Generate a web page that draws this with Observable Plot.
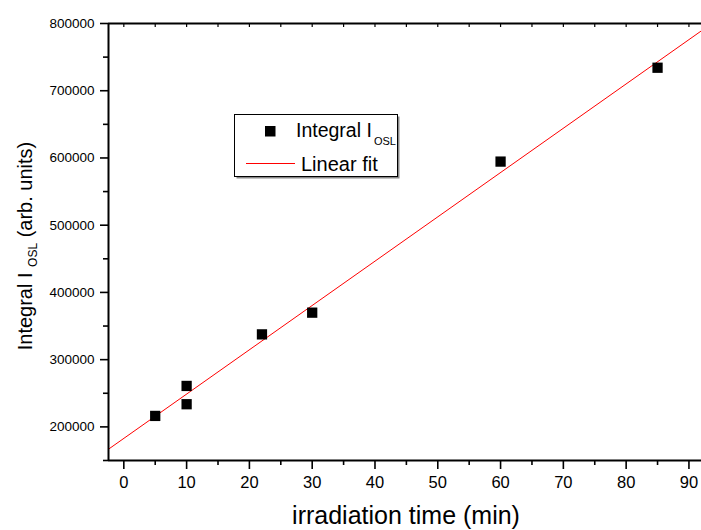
<!DOCTYPE html>
<html>
<head>
<meta charset="utf-8">
<script src="https://cdn.jsdelivr.net/npm/d3@7"></script>
<script src="https://cdn.jsdelivr.net/npm/@observablehq/plot@0.6"></script>
<style>
  html, body { margin: 0; padding: 0; background: #fff; }
  #chart { width: 701px; height: 530px; position: relative; overflow: hidden; }
</style>
</head>
<body>
<div id="chart"></div>
<script>
// ---- data ----
const timeMin = [5, 10, 10, 22, 30, 60, 85];
const integralOSL = [216300, 260900, 233700, 337600, 369900, 594600, 734200];
const fitX = [-2.44, 92.0];
const fitY = [166800, 789200];
const xDomain = [-2.44, 92.0];
const yDomain = [150000, 800000];
const xTicks = [0, 10, 20, 30, 40, 50, 60, 70, 80, 90];
const xMinorTicks = [5, 15, 25, 35, 45, 55, 65, 75, 85];
const yTicks = [200000, 300000, 400000, 500000, 600000, 700000, 800000];
const yMinorTicks = [150000, 250000, 350000, 450000, 550000, 650000, 750000];

const points = timeMin.map((t, i) => ({t, v: integralOSL[i]}));
const fit = fitX.map((t, i) => ({t, v: fitY[i]}));

const font = "'Liberation Sans', Arial, Helvetica, sans-serif";

const plot = Plot.plot({
  width: 701,
  height: 530,
  marginLeft: 108,
  marginRight: 0,
  marginTop: 23,
  marginBottom: 70,
  style: {fontFamily: font, background: "#fff", color: "#000"},
  x: {domain: xDomain},
  y: {domain: yDomain},
  marks: [
    Plot.line(fit, {x: "t", y: "v", stroke: "#ff0000", strokeWidth: 1, clip: true}),
    Plot.dot(points, {x: "t", y: "v", symbol: "square", r: 5.8, fill: "#000", stroke: null}),
    // frame lines
    Plot.ruleX([xDomain[0]], {strokeWidth: 2}),
    Plot.ruleY([yDomain[0]], {strokeWidth: 2}),
    Plot.ruleY([yDomain[1]], {strokeWidth: 2}),
    // y axis
    Plot.axisY({ticks: yTicks, tickSize: 8, tickPadding: 6, tickFormat: d3.format("d"),
      fontSize: 13.5, strokeWidth: 1.6, label: null}),
    Plot.axisY({ticks: yMinorTicks, tickSize: 5, tickFormat: () => "", strokeWidth: 1.6, label: null}),
    // x axis
    Plot.axisX({ticks: xTicks, tickSize: 9, tickPadding: 7, tickFormat: d3.format("d"),
      fontSize: 16.5, strokeWidth: 1.6, label: null}),
    Plot.axisX({ticks: xMinorTicks, tickSize: 5, tickFormat: () => "", strokeWidth: 1.6, label: null}),
    // small inward ticks on top border
    Plot.tickX(xTicks.concat(xMinorTicks), {x: d => d, insetBottom: 433, strokeWidth: 1.2})
  ]
});

document.getElementById("chart").appendChild(plot);

const svg = d3.select(plot);

// enforce tick label font sizes (inline style)
svg.selectAll("text").each(function() {
  const s = (this.textContent || "").trim();
  if (/^\d+$/.test(s)) {
    d3.select(this).style("font-size", s.length >= 6 ? "13.5px" : "16.5px")
      .style("font-family", font);
  }
});

// x axis title
svg.append("text")
  .attr("x", 406).attr("y", 524)
  .attr("text-anchor", "middle")
  .style("font-family", font).style("font-size", "25px").attr("fill", "#000")
  .text("irradiation time (min)");

// y axis title
const yl = svg.append("text")
  .attr("transform", "translate(32,246) rotate(-90)")
  .attr("text-anchor", "middle")
  .style("font-family", font).style("font-size", "20px").attr("fill", "#000");
yl.append("tspan").text("Integral I ");
yl.append("tspan").style("font-size", "12px").attr("dy", 5).text("OSL");
yl.append("tspan").attr("dy", -5).text(" (arb. units)");

// legend
const lg = svg.append("g").style("font-family", font).attr("fill", "#000").attr("text-anchor", "start");
lg.append("rect").attr("x", 236.5).attr("y", 116.5).attr("width", 163).attr("height", 62)
  .attr("fill", "#888");
lg.append("rect").attr("x", 234.5).attr("y", 114.5).attr("width", 163).attr("height", 62)
  .attr("fill", "#fff").attr("stroke", "#000").attr("stroke-width", 1);
lg.append("rect").attr("x", 265).attr("y", 126).attr("width", 10.5).attr("height", 10.5).attr("fill", "#000");
const t1 = lg.append("text").attr("x", 296).attr("y", 137).style("font-size", "19.5px").attr("text-anchor", "start");
t1.append("tspan").text("Integral I");
t1.append("tspan").style("font-size", "11px").attr("dy", 8).attr("dx", 2).text("OSL");
lg.append("line").attr("x1", 246).attr("x2", 295).attr("y1", 163.5).attr("y2", 163.5)
  .attr("stroke", "#ff0000").attr("stroke-width", 1);
lg.append("text").attr("x", 301).attr("y", 171).style("font-size", "20px").attr("text-anchor", "start").text("Linear fit");
</script>
</body>
</html>
